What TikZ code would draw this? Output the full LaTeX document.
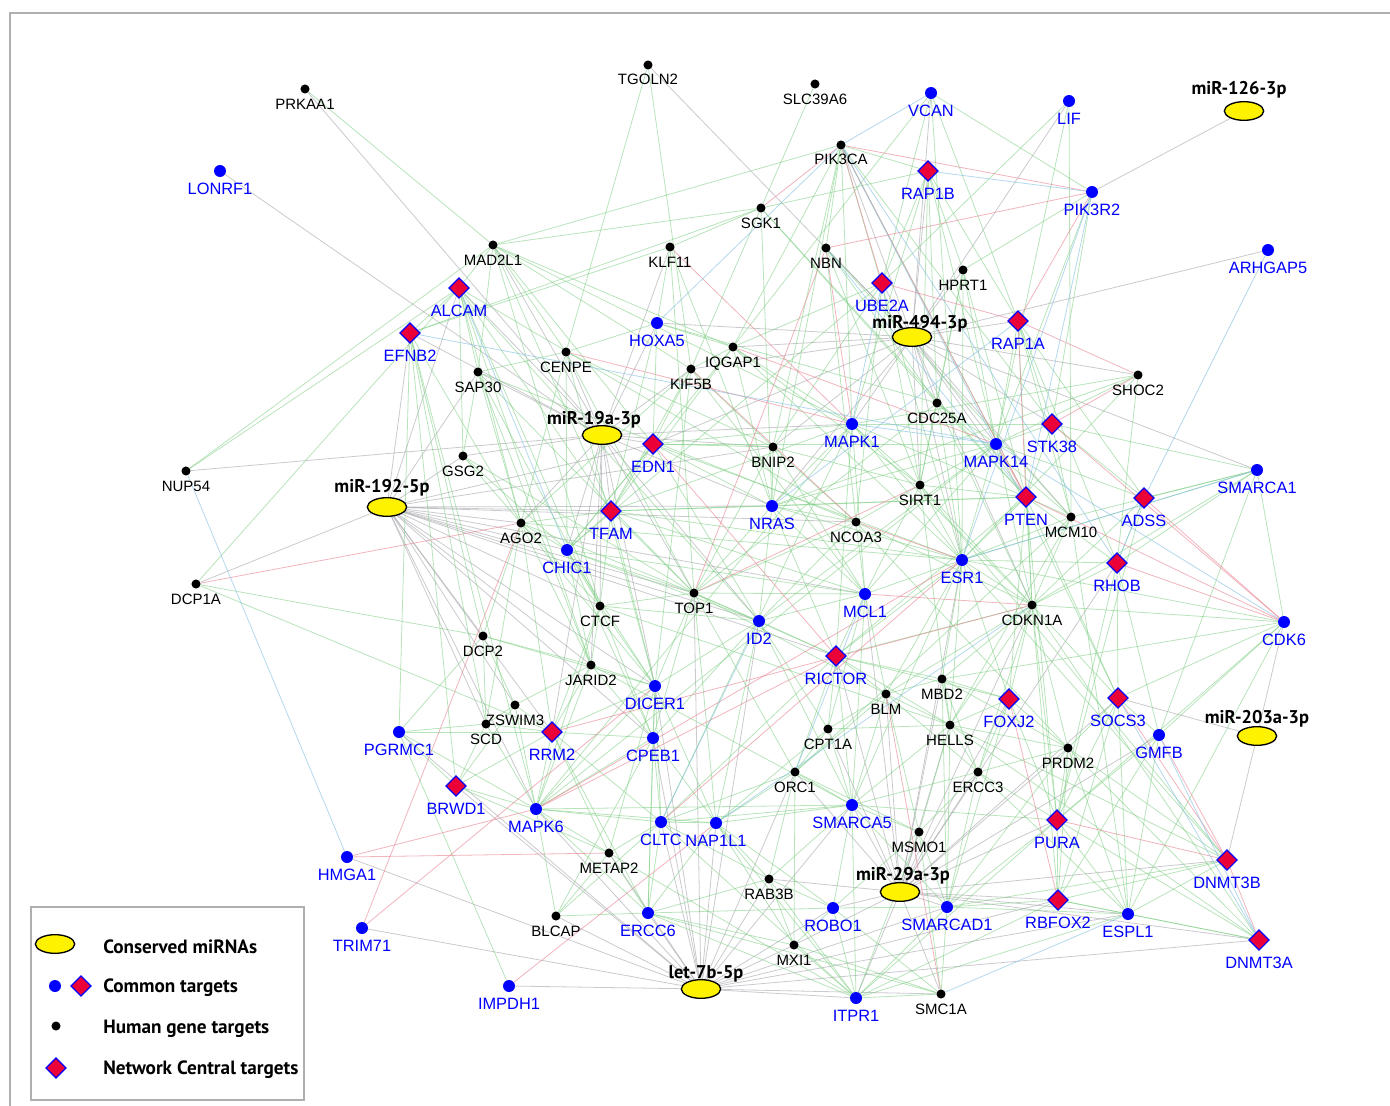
\documentclass[tikz,border=0pt]{standalone}
\usepackage{fontspec}
\setmainfont{Liberation Sans}
\newfontfamily\mirfont{PT Sans}
\usetikzlibrary{shapes.geometric,backgrounds}
\definecolor{cred}{RGB}{236,0,56}
\definecolor{eGreen}{RGB}{125,205,130}
\definecolor{eRed}{RGB}{232,130,145}
\definecolor{eBlue}{RGB}{130,190,225}
\definecolor{eGrey}{RGB}{150,150,158}
\definecolor{frameC}{RGB}{175,175,175}
\tikzset{
  bdot/.style={circle,fill=black,inner sep=0,minimum size=6.8pt},
  udot/.style={circle,fill=blue,inner sep=0,minimum size=9pt},
  cdia/.style={diamond,fill=cred,draw=blue,line width=0.9pt,inner sep=0,minimum size=15.5pt},
  mir/.style={ellipse,fill=yellow,draw=black,line width=1pt,minimum width=29.5pt,minimum height=14pt,inner sep=0},
  tblk/.style={font=\fontsize{11.25}{13}\selectfont,anchor=base,inner sep=0},
  tblu/.style={font=\fontsize{12.3}{14}\selectfont,text=blue,anchor=base,inner sep=0},
  tmir/.style={font=\mirfont\bfseries\fontsize{13.8}{15}\selectfont,anchor=base,inner sep=0},
  tleg/.style={font=\mirfont\bfseries\fontsize{14.4}{16}\selectfont,anchor=base west,inner sep=0},
  eg/.style={draw=eGreen,line width=0.6pt,draw opacity=0.55},
  er/.style={draw=eRed,line width=0.6pt,draw opacity=0.6},
  eb/.style={draw=eBlue,line width=0.6pt,draw opacity=0.6},
  ey/.style={draw=eGrey,line width=0.6pt,draw opacity=0.5},
}
\newcommand\hgNode[3]{\node[bdot] (#1) at (#2,#3) {}; \node[tblk] (#1-t) at (#2,#3+20) {#1};}
\newcommand\cgNode[3]{\node[udot] (#1) at (#2,#3) {}; \node[tblu] (#1-t) at (#2,#3+23.3) {#1};}
\newcommand\ngNode[3]{\node[cdia] (#1) at (#2,#3) {}; \node[tblu] (#1-t) at (#2,#3+28.5) {#1};}
\newcommand\miNode[6]{\node[mir] (#1) at (#2,#3) {}; \node[tmir] (#1-t) at (#5,#6) {#4};}
\begin{document}
\begin{tikzpicture}[x=0.75pt,y=-0.75pt]
\useasboundingbox (0,0) rectangle (1390,1106);
\draw[frameC,line width=1.1pt] (10,1106) -- (10,13) -- (1390,13);
% human gene targets
\hgNode{PRKAA1}{305}{89}
\hgNode{TGOLN2}{648}{65}
\hgNode{SLC39A6}{815}{84}
\hgNode{PIK3CA}{841}{145}
\hgNode{SGK1}{761}{208}
\hgNode{MAD2L1}{493}{245}
\hgNode{KLF11}{670}{247}
\hgNode{NBN}{826}{248}
\hgNode{HPRT1}{963}{270}
\hgNode{IQGAP1}{733}{347}
\hgNode{KIF5B}{691}{369}
\hgNode{CENPE}{566}{352}
\hgNode{SAP30}{478}{372}
\hgNode{GSG2}{463}{456}
\hgNode{NUP54}{186}{471}
\hgNode{SHOC2}{1138}{375}
\hgNode{CDC25A}{937}{403}
\hgNode{BNIP2}{773}{447}
\hgNode{SIRT1}{920}{485}
\hgNode{NCOA3}{856}{522}
\hgNode{MCM10}{1071}{517}
\hgNode{AGO2}{521}{523}
\hgNode{DCP1A}{196}{584}
\hgNode{CTCF}{600}{606}
\hgNode{TOP1}{694}{593}
\hgNode{CDKN1A}{1032}{605}
\hgNode{DCP2}{483}{636}
\hgNode{JARID2}{591}{665}
\hgNode{ZSWIM3}{515}{705}
\hgNode{SCD}{486}{724}
\hgNode{BLM}{886}{694}
\hgNode{MBD2}{942}{679}
\hgNode{CPT1A}{828}{729}
\hgNode{HELLS}{950}{725}
\hgNode{ORC1}{795}{772}
\hgNode{ERCC3}{978}{772}
\hgNode{PRDM2}{1068}{748}
\hgNode{MSMO1}{919}{832}
\hgNode{METAP2}{609}{853}
\hgNode{RAB3B}{769}{879}
\hgNode{BLCAP}{556}{916}
\hgNode{MXI1}{794}{945}
\hgNode{SMC1A}{941}{994}
% common targets
\cgNode{VCAN}{931}{93}
\cgNode{LIF}{1069}{101}
\cgNode{LONRF1}{220}{171}
\cgNode{PIK3R2}{1092}{192}
\cgNode{ARHGAP5}{1268}{250}
\cgNode{HOXA5}{657}{323}
\cgNode{MAPK1}{852}{424}
\cgNode{MAPK14}{996}{444}
\cgNode{SMARCA1}{1257}{470}
\cgNode{NRAS}{772}{506}
\cgNode{CHIC1}{567}{550}
\cgNode{ESR1}{962}{560}
\cgNode{MCL1}{865}{594}
\cgNode{ID2}{759}{621}
\cgNode{CDK6}{1284}{622}
\cgNode{DICER1}{655}{686}
\cgNode{PGRMC1}{399}{732}
\cgNode{CPEB1}{653}{738}
\cgNode{GMFB}{1159}{735}
\cgNode{MAPK6}{536}{809}
\cgNode{SMARCA5}{852}{805}
\cgNode{CLTC}{661}{822}
\cgNode{NAP1L1}{716}{823}
\cgNode{HMGA1}{347}{857}
\cgNode{ERCC6}{648}{913}
\cgNode{ROBO1}{833}{908}
\cgNode{SMARCAD1}{947}{907}
\cgNode{ESPL1}{1128}{914}
\cgNode{TRIM71}{362}{928}
\cgNode{IMPDH1}{509}{986}
\cgNode{ITPR1}{856}{998}
% network central targets
\ngNode{RAP1B}{928}{171}
\ngNode{ALCAM}{459}{288}
\ngNode{UBE2A}{882}{283}
\ngNode{EFNB2}{410}{333}
\ngNode{RAP1A}{1018}{321}
\ngNode{STK38}{1052}{424}
\ngNode{EDN1}{653}{444}
\ngNode{PTEN}{1026}{497}
\ngNode{ADSS}{1144}{498}
\ngNode{TFAM}{611}{511}
\ngNode{RHOB}{1117}{563}
\ngNode{RICTOR}{836}{656}
\ngNode{FOXJ2}{1009}{699}
\ngNode{SOCS3}{1118}{698}
\ngNode{RRM2}{552}{732}
\ngNode{BRWD1}{456}{786}
\ngNode{PURA}{1057}{820}
\ngNode{DNMT3B}{1227}{860}
\ngNode{RBFOX2}{1058}{900}
\ngNode{DNMT3A}{1259}{940}
% conserved miRNAs
\miNode{m126}{1244}{111}{miR-126-3p}{1239}{95}
\miNode{m494}{912}{337}{miR-494-3p}{920}{328}
\miNode{m19a}{602}{435}{miR-19a-3p}{594}{424}
\miNode{m192}{387}{507}{miR-192-5p}{382}{492}
\miNode{m203}{1257}{736}{miR-203a-3p}{1257}{723}
\miNode{m29a}{900}{892}{miR-29a-3p}{903}{880}
\miNode{let7}{701}{989}{let-7b-5p}{706}{978}
% legend
\node[draw=frameC,line width=0.9pt,minimum width=204.75pt,minimum height=144.75pt,inner sep=0] (legbox) at (167.5,1003.5) {};
\node[mir] (lg1) at (55,944) {};
\node[udot] (lg2a) at (55,986) {};
\node[cdia] (lg2b) at (81,986) {};
\node[bdot] (lg3) at (56,1026) {};
\node[cdia] (lg4) at (56,1068) {};
\node[tleg] (lg1-t) at (103,953) {Conserved miRNAs};
\node[tleg] (lg2-t) at (103,992) {Common targets};
\node[tleg] (lg3-t) at (103,1033) {Human gene targets};
\node[tleg] (lg4-t) at (103,1074) {Network Central targets};
\begin{pgfonlayer}{background}
% miRNA-target edges (grey)
\draw[ey] (m126) -- (PIK3R2);
\foreach \t in {DNMT3B,SOCS3,CDK6} \draw[ey] (m203) -- (\t);
\foreach \t in {ARHGAP5,LIF,UBE2A,RAP1B,HPRT1,RAP1A,SHOC2,MAPK14,CDC25A,SIRT1,PTEN,STK38,MAPK1,NBN,PIK3CA,TGOLN2,IQGAP1,BNIP2,ESR1,MCM10,CDKN1A,KIF5B,NRAS,SMARCA1,HOXA5,VCAN,EDN1} \draw[ey] (m494) -- (\t);
\foreach \t in {PRKAA1,LONRF1,NUP54,EDN1,TFAM,CENPE,SAP30,MAD2L1,ALCAM,EFNB2,GSG2,AGO2,CHIC1,KIF5B,BNIP2,MAPK1,HOXA5,KLF11,CTCF,TOP1,DICER1,JARID2,NRAS,ID2,RRM2} \draw[ey] (m19a) -- (\t);
\foreach \t in {DCP1A,GSG2,AGO2,CHIC1,DCP2,ZSWIM3,SCD,CTCF,TOP1,TFAM,JARID2,DICER1,RRM2,CPEB1,EFNB2,ALCAM,SAP30,MAPK6,NCOA3,ID2,MCL1,NRAS,RICTOR,EDN1,BNIP2} \draw[ey] (m192) -- (\t);
\foreach \t in {MSMO1,SMARCAD1,SMARCA5,ROBO1,ITPR1,SMC1A,RBFOX2,PURA,ESPL1,DNMT3A,DNMT3B,HELLS,ERCC3,MBD2,BLM,CPT1A,ORC1,FOXJ2,PRDM2,SOCS3,GMFB,ESR1,MCL1,RICTOR,RHOB,CDKN1A,MXI1,RAB3B} \draw[ey] (m29a) -- (\t);
\foreach \t in {IMPDH1,TRIM71,HMGA1,BLCAP,ERCC6,ITPR1,MXI1,RAB3B,METAP2,MAPK6,CLTC,NAP1L1,SMC1A,ROBO1,SMARCA5,CPEB1,DICER1,ORC1,BRWD1,PGRMC1,SMARCAD1,RBFOX2,DNMT3A,ESPL1,ID2,TOP1} \draw[ey] (let7) -- (\t);
% gene-gene edges (green)
\foreach \a/\b in {PRKAA1/MAD2L1,TGOLN2/CENPE,TGOLN2/KIF5B,SLC39A6/KIF5B,PIK3CA/MAPK1,PIK3CA/NRAS,PIK3CA/PTEN,PIK3CA/ESR1,PIK3CA/IQGAP1,PIK3CA/BNIP2,PIK3CA/RAP1B,PIK3CA/NBN,PIK3CA/MAD2L1,PIK3CA/STK38,VCAN/PIK3R2,VCAN/RAP1A,VCAN/IQGAP1,VCAN/UBE2A,VCAN/ESR1,LIF/MCM10,LIF/UBE2A,LIF/MAPK14,PIK3R2/MAPK14,PIK3R2/HPRT1,PIK3R2/STK38,RAP1B/RAP1A,RAP1B/MAPK1,RAP1B/UBE2A,RAP1B/SGK1,RAP1B/CDC25A,RAP1B/SIRT1,RAP1B/HPRT1,RAP1B/MAPK14,SGK1/MAD2L1,SGK1/PTEN,SGK1/CDC25A,SGK1/KLF11,SGK1/NRAS,SGK1/EFNB2,MAD2L1/ALCAM,MAD2L1/CENPE,MAD2L1/SAP30,MAD2L1/NUP54,MAD2L1/KIF5B,MAD2L1/EDN1,MAD2L1/TFAM,MAD2L1/IQGAP1,MAD2L1/MAPK1,MAD2L1/CTCF,KLF11/HOXA5,KLF11/NRAS,KLF11/EFNB2,KLF11/TOP1,NBN/SIRT1,NBN/CDC25A,NBN/MCM10,NBN/NCOA3,HPRT1/MAPK14,HPRT1/CDC25A,HPRT1/PTEN,HPRT1/ESR1,HPRT1/SIRT1,UBE2A/IQGAP1,UBE2A/BNIP2,UBE2A/SIRT1,UBE2A/CHIC1,UBE2A/NCOA3,RAP1A/MAPK14,RAP1A/STK38,RAP1A/ADSS,RAP1A/RHOB,RAP1A/MCM10,RAP1A/CDKN1A,ALCAM/EFNB2,ALCAM/SAP30,ALCAM/AGO2,ALCAM/CTCF,ALCAM/TFAM,ALCAM/GSG2,ALCAM/DCP1A,ALCAM/NUP54,ALCAM/NCOA3,ALCAM/ID2,ALCAM/JARID2,EFNB2/DCP2,EFNB2/SCD,EFNB2/AGO2,EFNB2/BRWD1,EFNB2/MAPK6,EFNB2/PGRMC1,HOXA5/CENPE,HOXA5/EDN1,HOXA5/IQGAP1,HOXA5/CDC25A,HOXA5/TFAM,CENPE/SAP30,CENPE/AGO2,CENPE/TOP1,CENPE/DICER1,CENPE/BNIP2,CENPE/CHIC1,IQGAP1/KIF5B,IQGAP1/MAPK1,IQGAP1/NRAS,IQGAP1/SIRT1,IQGAP1/TFAM,IQGAP1/CHIC1,IQGAP1/ESR1,KIF5B/EDN1,KIF5B/TFAM,KIF5B/AGO2,KIF5B/BNIP2,KIF5B/DICER1,KIF5B/MCL1,SAP30/AGO2,SAP30/GSG2,SAP30/TOP1,SAP30/JARID2,SAP30/CTCF,SAP30/NCOA3,GSG2/AGO2,GSG2/CHIC1,GSG2/TOP1,SHOC2/MAPK1,SHOC2/NRAS,SHOC2/RHOB,SHOC2/MAPK14,SHOC2/ESR1,CDC25A/MAPK14,CDC25A/MCM10,CDC25A/CDKN1A,CDC25A/SIRT1,CDC25A/TOP1,CDC25A/ESR1,CDC25A/PTEN,MAPK1/NRAS,MAPK1/ESR1,MAPK1/MCL1,MAPK1/RICTOR,MAPK1/PTEN,MAPK1/EDN1,MAPK1/TFAM,MAPK1/SIRT1,MAPK1/CDKN1A,MAPK1/MAPK6,MAPK1/CLTC,MAPK1/STK38,MAPK14/STK38,MAPK14/ESR1,MAPK14/CDKN1A,MAPK14/MCL1,MAPK14/SIRT1,MAPK14/SOCS3,MAPK14/MAPK6,MAPK14/ADSS,MAPK14/NRAS,MAPK14/ID2,STK38/PTEN,STK38/ADSS,STK38/SMARCA1,STK38/MCM10,EDN1/TFAM,EDN1/NRAS,EDN1/BNIP2,EDN1/CHIC1,EDN1/ESR1,EDN1/MAPK14,EDN1/ID2,BNIP2/NRAS,BNIP2/SIRT1,BNIP2/NCOA3,BNIP2/TOP1,BNIP2/MCL1,SIRT1/NCOA3,SIRT1/PTEN,SIRT1/ESR1,SIRT1/MCL1,SIRT1/CDKN1A,SIRT1/HELLS,SIRT1/DNMT3B,PTEN/ESR1,PTEN/MCM10,PTEN/CDKN1A,PTEN/RHOB,PTEN/SOCS3,PTEN/FOXJ2,PTEN/RICTOR,PTEN/NRAS,PTEN/PURA,ADSS/RHOB,ADSS/SMARCA1,ADSS/PURA,ADSS/CDKN1A,SMARCA1/RHOB,SMARCA1/CDKN1A,SMARCA1/ESR1,SMARCA1/GMFB,SMARCA1/MCM10,NRAS/TFAM,NRAS/NCOA3,NRAS/ID2,NRAS/MCL1,NRAS/ESR1,NRAS/RICTOR,NRAS/TOP1,TFAM/AGO2,TFAM/CHIC1,TFAM/CTCF,TFAM/TOP1,TFAM/ESR1,TFAM/DICER1,TFAM/MCL1,TFAM/PTEN,NCOA3/MCL1,NCOA3/ID2,NCOA3/CDKN1A,NCOA3/TOP1,NCOA3/PRDM2,MCM10/CDKN1A,MCM10/ESR1,MCM10/ORC1,MCM10/HELLS,MCM10/ESPL1,AGO2/CHIC1,AGO2/DICER1,AGO2/DCP2,AGO2/CTCF,AGO2/JARID2,AGO2/TOP1,AGO2/SCD,AGO2/RRM2,AGO2/ESR1,CHIC1/CTCF,CHIC1/TOP1,CHIC1/ID2,CHIC1/DICER1,CHIC1/JARID2,CHIC1/CPEB1,CHIC1/MCL1,ESR1/MCL1,ESR1/CDKN1A,ESR1/RHOB,ESR1/RICTOR,ESR1/BLM,ESR1/MBD2,ESR1/FOXJ2,ESR1/HELLS,ESR1/CDK6,ESR1/DNMT3B,ESR1/SMARCA5,RHOB/CDKN1A,RHOB/SOCS3,RHOB/PURA,RHOB/GMFB,DCP1A/DCP2,DCP1A/RRM2,CTCF/TOP1,CTCF/JARID2,CTCF/DICER1,CTCF/ID2,CTCF/CPEB1,CTCF/RRM2,CTCF/MAPK6,CTCF/HELLS,TOP1/ID2,TOP1/MCL1,TOP1/RICTOR,TOP1/DICER1,TOP1/CPEB1,TOP1/NAP1L1,TOP1/ORC1,TOP1/BLM,MCL1/ID2,MCL1/RICTOR,MCL1/BLM,MCL1/CPT1A,MCL1/SMARCA5,ID2/RICTOR,ID2/DICER1,ID2/CPEB1,ID2/CPT1A,ID2/NAP1L1,ID2/SMARCA5,CDKN1A/CDK6,CDKN1A/FOXJ2,CDKN1A/SOCS3,CDKN1A/PRDM2,CDKN1A/HELLS,CDKN1A/PURA,CDKN1A/RICTOR,CDKN1A/MBD2,CDKN1A/BLM,CDKN1A/ERCC3,CDKN1A/RBFOX2,CDKN1A/DNMT3A,CDK6/SOCS3,CDK6/GMFB,CDK6/PURA,CDK6/ESPL1,CDK6/MBD2,CDK6/SMARCA1,DCP2/JARID2,DCP2/ZSWIM3,DCP2/SCD,DCP2/DICER1,DCP2/PGRMC1,JARID2/DICER1,JARID2/ZSWIM3,JARID2/RRM2,JARID2/CPEB1,JARID2/MAPK6,JARID2/SMARCA5,RICTOR/BLM,RICTOR/CPT1A,RICTOR/MBD2,RICTOR/SMARCA5,RICTOR/ORC1,RICTOR/CLTC,RICTOR/HELLS,RICTOR/FOXJ2,FOXJ2/HELLS,FOXJ2/PRDM2,FOXJ2/PURA,FOXJ2/ERCC3,FOXJ2/MBD2,FOXJ2/SMARCAD1,SOCS3/GMFB,SOCS3/PRDM2,SOCS3/PURA,SOCS3/RBFOX2,SOCS3/ESPL1,DICER1/CPEB1,DICER1/RRM2,DICER1/MAPK6,DICER1/CLTC,DICER1/NAP1L1,DICER1/METAP2,DICER1/ERCC6,ZSWIM3/SCD,ZSWIM3/RRM2,ZSWIM3/MAPK6,ZSWIM3/BRWD1,SCD/RRM2,SCD/PGRMC1,SCD/BRWD1,SCD/MAPK6,BLM/MBD2,BLM/CPT1A,BLM/HELLS,BLM/ORC1,BLM/SMARCA5,BLM/ERCC3,BLM/MSMO1,MBD2/HELLS,MBD2/PRDM2,MBD2/SMARCAD1,MBD2/ERCC3,PGRMC1/BRWD1,PGRMC1/RRM2,PGRMC1/IMPDH1,PGRMC1/MAPK6,CPT1A/HELLS,CPT1A/ORC1,CPT1A/SMARCA5,CPT1A/NAP1L1,HELLS/ERCC3,HELLS/PRDM2,HELLS/SMARCA5,HELLS/MSMO1,HELLS/SMARCAD1,HELLS/DNMT3B,HELLS/DNMT3A,GMFB/PURA,GMFB/RBFOX2,GMFB/ESPL1,RRM2/CPEB1,RRM2/MAPK6,RRM2/BRWD1,RRM2/CLTC,RRM2/METAP2,RRM2/ERCC6,CPEB1/MAPK6,CPEB1/CLTC,CPEB1/NAP1L1,CPEB1/ERCC6,CPEB1/BLCAP,ORC1/SMARCA5,ORC1/NAP1L1,ORC1/CLTC,ORC1/RAB3B,ORC1/MSMO1,ORC1/MXI1,ERCC3/PRDM2,ERCC3/SMARCA5,ERCC3/MSMO1,ERCC3/SMARCAD1,ERCC3/PURA,ERCC3/ESPL1,PRDM2/PURA,PRDM2/DNMT3B,PRDM2/RBFOX2,PRDM2/DNMT3A,PRDM2/ESPL1,PRDM2/SMARCAD1,BRWD1/MAPK6,BRWD1/METAP2,MAPK6/CLTC,MAPK6/NAP1L1,MAPK6/METAP2,MAPK6/BLCAP,MAPK6/ERCC6,MAPK6/SMARCA5,SMARCA5/NAP1L1,SMARCA5/MSMO1,SMARCA5/ROBO1,SMARCA5/SMARCAD1,SMARCA5/ITPR1,SMARCA5/RAB3B,SMARCA5/PURA,SMARCA5/CLTC,CLTC/NAP1L1,CLTC/METAP2,CLTC/ERCC6,CLTC/RAB3B,CLTC/ITPR1,CLTC/BLCAP,NAP1L1/RAB3B,NAP1L1/ERCC6,NAP1L1/ROBO1,NAP1L1/MXI1,NAP1L1/ITPR1,METAP2/ERCC6,METAP2/BLCAP,METAP2/ITPR1,MSMO1/SMARCAD1,MSMO1/ITPR1,MSMO1/ROBO1,MSMO1/SMC1A,PURA/RBFOX2,PURA/DNMT3A,PURA/ESPL1,PURA/SMARCAD1,PURA/ITPR1,DNMT3B/RBFOX2,DNMT3B/SMARCAD1,DNMT3B/ESPL1,RAB3B/ERCC6,RAB3B/ROBO1,RAB3B/MXI1,RAB3B/ITPR1,BLCAP/ERCC6,ERCC6/ROBO1,ERCC6/MXI1,ERCC6/ITPR1,ERCC6/SMC1A,ROBO1/SMARCAD1,ROBO1/ITPR1,ROBO1/MXI1,ROBO1/SMC1A,SMARCAD1/RBFOX2,SMARCAD1/ITPR1,SMARCAD1/SMC1A,SMARCAD1/ESPL1,RBFOX2/ESPL1,RBFOX2/ITPR1,RBFOX2/DNMT3A,ESPL1/DNMT3A,ESPL1/ITPR1,MXI1/ITPR1,MXI1/SMC1A,ITPR1/SMC1A} \draw[eg] (\a) -- (\b);
% gene-gene edges (red)
\foreach \a/\b in {PIK3CA/PIK3R2,PIK3CA/UBE2A,PIK3CA/SGK1,PIK3CA/PTEN,PIK3R2/RAP1A,PIK3R2/NBN,KLF11/MAPK1,NBN/TOP1,NBN/MAPK1,DCP1A/AGO2,HMGA1/METAP2,HMGA1/MAPK6,AGO2/TRIM71,TRIM71/DICER1,IMPDH1/NAP1L1,SHOC2/STK38,SHOC2/RAP1A,MAPK14/PTEN,RAP1A/PTEN,PTEN/CDK6,ADSS/CDK6,RHOB/CDK6,STK38/CDK6,SOCS3/DNMT3B,DNMT3B/DNMT3A,GMFB/DNMT3B,FOXJ2/RBFOX2,MCL1/CDKN1A,RICTOR/MAPK6,ESR1/NCOA3,UBE2A/RAP1A,CENPE/MAPK1,EDN1/RICTOR,TOP1/SIRT1,PURA/DNMT3B,IQGAP1/MAPK14,KIF5B/NCOA3,RRM2/CDKN1A,SMC1A/BLM,CLTC/ESR1,MAPK6/ESR1} \draw[er] (\a) -- (\b);
% gene-gene edges (blue)
\foreach \a/\b in {NUP54/HMGA1,ARHGAP5/ADSS,PIK3CA/HOXA5,PIK3CA/MAPK14,PIK3CA/RHOB,PIK3R2/PTEN,PIK3R2/ESR1,EFNB2/MAPK14,ALCAM/CHIC1,ESPL1/SMC1A,GMFB/DNMT3A,SOCS3/DNMT3A,ADSS/RHOB,MAPK1/MAPK14,NRAS/RAP1A,UBE2A/MAPK1,NBN/PTEN,VCAN/PIK3CA,RAP1B/PIK3R2,MAPK14/CDK6,ESR1/SMARCA1,ID2/CLTC,NAP1L1/CDKN1A,MCL1/ORC1} \draw[eb] (\a) -- (\b);
\end{pgfonlayer}
\end{tikzpicture}
\end{document}
